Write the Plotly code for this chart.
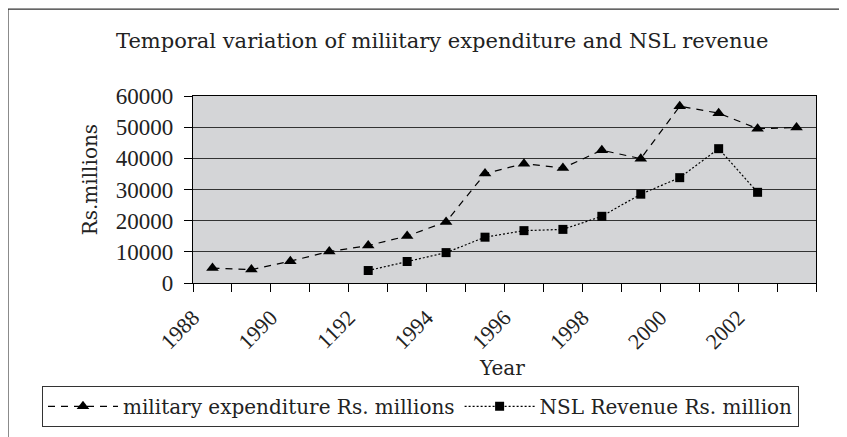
import plotly.graph_objects as go

# categories (note the original chart labels 1992 as "1192")
years = ["1988", "1989", "1990", "1991", "1992", "1993", "1994", "1995",
         "1996", "1997", "1998", "1999", "2000", "2001", "2002", "2003"]
tick_labels = ["1988", "1990", "1192", "1994", "1996", "1998", "2000", "2002"]

military = [4800, 4300, 7000, 10100, 12000, 15100, 19600, 35100,
            38300, 36900, 42600, 39900, 56700, 54500, 49500, 49900]
nsl = [None, None, None, None, 4000, 6900, 9750, 14700,
       16800, 17200, 21400, 28500, 33800, 43100, 29100, None]

NUM_FONT = "Liberation Serif"
TXT_FONT = "DejaVu Serif"
x_idx = list(range(len(years)))

fig = go.Figure()

fig.add_trace(go.Scatter(
    x=x_idx, y=military,
    mode="lines+markers",
    name="military expenditure Rs. millions",
    line=dict(color="black", width=1.2, dash="7px,6px"),
    marker=dict(symbol="triangle-up", size=11, color="black"),
))
fig.add_trace(go.Scatter(
    x=x_idx, y=nsl,
    mode="lines+markers",
    name="NSL Revenue Rs. million",
    line=dict(color="black", width=1.2, dash="2px,2px"),
    marker=dict(symbol="square", size=9, color="black"),
))

# outer frame (top and left edges visible, rest runs off the page)
fig.add_shape(type="rect", xref="paper", yref="paper",
              x0=-0.297, x1=1.2, y0=-1.0, y1=1.465,
              line=dict(color="#333333", width=1.2), fillcolor="rgba(0,0,0,0)",
              layer="below")

fig.add_annotation(text="Temporal variation of miliitary expenditure and NSL revenue",
                   xref="paper", yref="paper", x=0.40, y=1.295,
                   xanchor="center", yanchor="middle",
                   showarrow=False, font=dict(family=TXT_FONT, size=21, color="#222"))
fig.add_annotation(text="Rs.millions", textangle=-90,
                   xref="paper", yref="paper", x=-0.165, y=0.55,
                   xanchor="center", yanchor="middle",
                   showarrow=False, font=dict(family=TXT_FONT, size=20, color="#222"))
fig.add_annotation(text="Year",
                   xref="paper", yref="paper", x=0.496, y=-0.455,
                   xanchor="center", yanchor="middle",
                   showarrow=False, font=dict(family=TXT_FONT, size=20, color="#222"))

# page body has an 8px margin, so the figure is 8px smaller each way
fig.update_layout(
    width=839, height=429,
    margin=dict(l=185, r=31, t=88, b=154, autoexpand=False),
    paper_bgcolor="white",
    plot_bgcolor="#d4d5d7",
    font=dict(family=NUM_FONT, size=21, color="#222"),
    showlegend=True,
    legend=dict(orientation="h", x=-0.2424, y=-0.55, xanchor="left", yanchor="top",
                bordercolor="#333", borderwidth=1, bgcolor="white",
                font=dict(family=TXT_FONT, size=20), itemwidth=70,
                tracegroupgap=0),
)

# labels sit at the left edge of every other category, like the original
boundaries = [i - 0.5 for i in range(len(years) + 1)]
fig.update_xaxes(
    range=[-0.5, len(years) - 0.5],
    tickmode="array",
    tickvals=boundaries[:-1][::2],
    ticktext=tick_labels,
    tickangle=-45,
    ticks="outside", ticklen=8, tickcolor="black",
    ticklabelstandoff=4,
    showgrid=False, zeroline=False,
    showline=True, linecolor="black", linewidth=1.2, mirror=True,
    minor=dict(tickmode="array", tickvals=boundaries,
               ticks="outside", ticklen=8, tickcolor="black", showgrid=False),
    tickfont=dict(family=NUM_FONT, size=22),
)
fig.update_yaxes(
    range=[0, 60000],
    tickvals=[0, 10000, 20000, 30000, 40000, 50000, 60000],
    ticks="outside", ticklen=8, tickcolor="black",
    ticklabelstandoff=6,
    showgrid=True, gridcolor="#333", gridwidth=1,
    zeroline=False,
    showline=True, linecolor="black", linewidth=1.2, mirror=True,
    tickfont=dict(family=NUM_FONT, size=23),
    tickformat="d",
)

fig.write_html("out.html")
